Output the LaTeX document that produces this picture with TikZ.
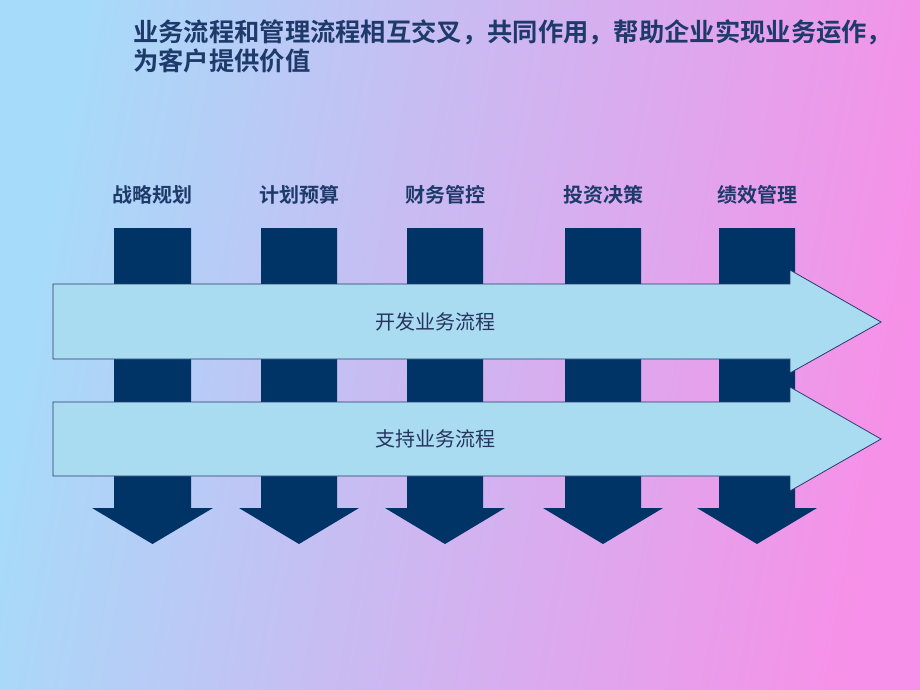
\documentclass[tikz,border=0pt]{standalone}
\usepackage{fontspec}
\newfontfamily\cjk{Noto Sans CJK SC}
\newfontfamily\cjkb{Noto Sans CJK SC Bold}
\definecolor{navy}{HTML}{003366}
\definecolor{titlec}{HTML}{1E3A6A}
\definecolor{arrowfill}{HTML}{A9DCF0}
\definecolor{arrowline}{HTML}{2A3A6A}
\definecolor{bgl}{HTML}{A6DCFA}
\definecolor{bgr}{HTML}{F790E8}
\tikzset{
  col/.style={fill=navy, draw=none},
  harrow/.style={fill=arrowfill, draw=arrowline, line width=0.8pt, line join=miter},
  toplabel/.style={font=\cjkb\fontsize{20}{20}\selectfont, text=titlec, inner sep=0pt},
  arrowlabel/.style={font=\cjk\fontsize{20}{20}\selectfont, text=arrowline!90!black, inner sep=0pt},
  titletext/.style={font=\cjkb\fontsize{25.3}{29}\selectfont, text=titlec, inner sep=0pt, anchor=north west, align=left}
}
\begin{document}
\begin{tikzpicture}[x=1pt,y=-1pt]
\useasboundingbox (0,0) rectangle (920,690);
\shade[left color=bgl, right color=bgr, shading angle=80] (0,0) rectangle (920,690);
\node[titletext] (title) at (133,19) {业务流程和管理流程相互交叉，共同作用，帮助企业实现业务运作，\\为客户提供价值};
% columns
\foreach \n/\l/\r/\t in {c1/114/191/战略规划, c2/261/337/计划预算, c3/407/483/财务管控, c4/565/641/投资决策, c5/719/795/绩效管理}{
  \pgfmathsetmacro{\m}{(\l+\r)/2}
  \node[toplabel] (\n lab) at (\m,195) {\t};
  \fill[navy] (\l,228) -- (\r,228) -- (\r,508) -- (\r+22,508) -- (\m,544) -- (\l-22,508) -- (\l,508) -- cycle;
}
% horizontal arrows
\draw[harrow] (53,284) -- (790,284) -- (790,270) -- (881,322) -- (790,373) -- (790,359) -- (53,359) -- cycle;
\node[arrowlabel] (a1) at (435,322) {开发业务流程};
\draw[harrow] (53,402) -- (790,402) -- (790,387) -- (881,439) -- (790,491) -- (790,476) -- (53,476) -- cycle;
\node[arrowlabel] (a2) at (435,439) {支持业务流程};
\end{tikzpicture}
\end{document}
